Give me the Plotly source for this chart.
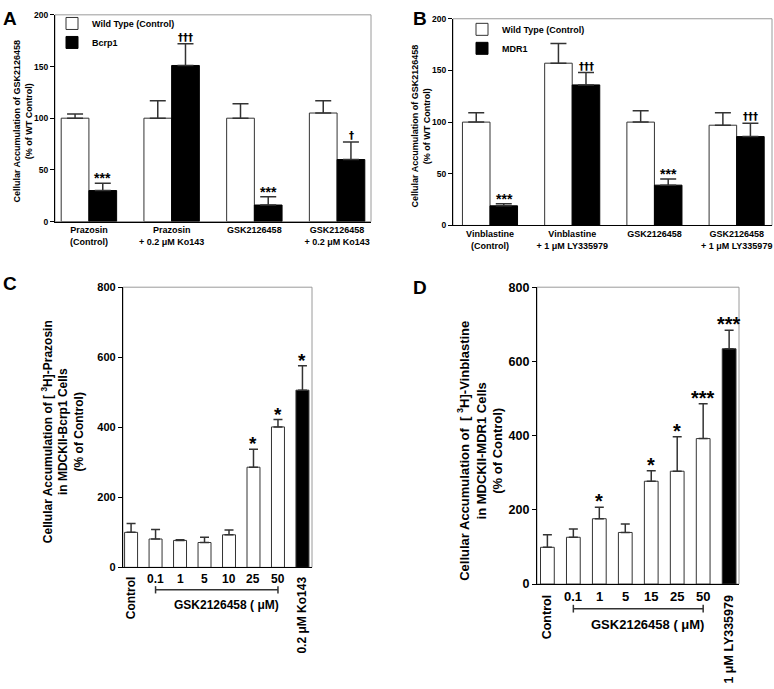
import plotly.graph_objects as go

# ---------------- data ----------------
catsA = ["Prazosin<br>(Control)", "Prazosin<br>+ 0.2 μM Ko143", "GSK2126458", "GSK2126458<br>+ 0.2 μM Ko143"]
wtA = [100, 100, 100, 105]
wtA_err = [4, 17, 14, 12]
bcrpA = [30, 151, 16, 60]
bcrpA_err = [7, 21, 8, 17]
sigA = ["***", "†††", "***", "†"]

catsB = ["Vinblastine<br>(Control)", "Vinblastine<br>+ 1 μM LY335979", "GSK2126458", "GSK2126458<br>+ 1 μM LY335979"]
wtB = [100, 157, 100, 97]
wtB_err = [9, 19, 11, 12]
mdrB = [19, 136, 39, 86]
mdrB_err = [2, 12, 6, 13]
sigB = ["***", "†††", "***", "†††"]

catsC = ["Control", "0.1", "1", "5", "10", "25", "50", "0.2 μM Ko143"]
valsC = [100, 81, 77, 71, 93, 286, 401, 506]
errC = [25, 27, 2, 15, 14, 51, 21, 70]
sigC = ["", "", "", "", "", "*", "*", "*"]

catsD = ["Control", "0.1", "1", "5", "15", "25", "50", "1 μM LY335979"]
valsD = [99, 126, 176, 139, 277, 304, 392, 634]
errD = [34, 22, 31, 23, 28, 93, 94, 50]
sigD = ["", "", "*", "", "*", "*", "***", "***"]

yticksAB = [0, 50, 100, 150, 200]
yticksCD = [0, 200, 400, 600, 800]

FONT = "Liberation Sans, Arial, sans-serif"
W, H = 774, 689

def px_x(p):
    return p / W

def px_y(p):
    return 1 - p / H

ERRC = "#333333"
LINEC = "#333333"

fig = go.Figure()

def err(arr):
    return dict(type="data", array=arr, arrayminus=[0] * len(arr), symmetric=False,
                color=ERRC, thickness=1.5, width=8)

# ---- Panel A ----
fig.add_trace(go.Bar(
    x=catsA, y=wtA, name="Wild Type (Control)", xaxis="x", yaxis="y", legend="legend",
    marker=dict(color="white", line=dict(color=LINEC, width=1)), error_y=err(wtA_err)))
fig.add_trace(go.Bar(
    x=catsA, y=bcrpA, name="Bcrp1", xaxis="x", yaxis="y", legend="legend",
    marker=dict(color="black", line=dict(color="black", width=1)), error_y=err(bcrpA_err)))

# ---- Panel B ----
fig.add_trace(go.Bar(
    x=catsB, y=wtB, name="Wild Type (Control)", xaxis="x2", yaxis="y2", legend="legend2",
    marker=dict(color="white", line=dict(color=LINEC, width=1)), error_y=err(wtB_err)))
fig.add_trace(go.Bar(
    x=catsB, y=mdrB, name="MDR1", xaxis="x2", yaxis="y2", legend="legend2",
    marker=dict(color="black", line=dict(color="black", width=1)), error_y=err(mdrB_err)))

# ---- Panel C ----
colC = ["black" if i == len(catsC) - 1 else "white" for i in range(len(catsC))]
eC = err(errC); eC["width"] = 4.5
fig.add_trace(go.Bar(
    x=catsC, y=valsC, xaxis="x3", yaxis="y3", showlegend=False, width=0.53,
    marker=dict(color=colC, line=dict(color=LINEC, width=1)), error_y=eC))

# ---- Panel D ----
colD = ["black" if i == len(catsD) - 1 else "white" for i in range(len(catsD))]
eD = err(errD); eD["width"] = 4.5
fig.add_trace(go.Bar(
    x=catsD, y=valsD, xaxis="x4", yaxis="y4", showlegend=False, width=0.53,
    marker=dict(color=colD, line=dict(color=LINEC, width=1)), error_y=eD))

def yax(domain, anchor, rng, ticks, size):
    return dict(domain=domain, anchor=anchor, range=rng, tickvals=ticks,
                showline=True, linecolor="black", linewidth=1.2, mirror=False,
                ticks="outside", ticklen=4, tickwidth=1, tickcolor="black",
                showgrid=False, zeroline=False,
                tickfont=dict(family=FONT, size=size, color="black", weight="bold"))

def xax(domain, anchor, rng, size, show=True):
    return dict(domain=domain, anchor=anchor, range=rng, type="category",
                showline=True, linecolor="black", linewidth=1.2, ticks="",
                showgrid=False, zeroline=False, showticklabels=show,
                tickfont=dict(family=FONT, size=size, color="black", weight="bold"))

domA_x = [px_x(55), px_x(371)];  domA_y = [px_y(219), px_y(8)]
domB_x = [px_x(453), px_x(772)]; domB_y = [px_y(223), px_y(12)]
domC_x = [px_x(123), px_x(312)]; domC_y = [px_y(572), px_y(286)]
domD_x = [px_x(537), px_x(739)]; domD_y = [px_y(589), px_y(286)]

legfont = dict(family=FONT, size=9, color="black", weight="bold")
fig.update_layout(
    width=W, height=H, margin=dict(l=0, r=0, t=0, b=0),
    paper_bgcolor="white", plot_bgcolor="white",
    font=dict(family=FONT, color="black"),
    barmode="group", bargap=0.33, bargroupgap=0,
    xaxis=xax(domA_x, "y", [-0.41, 3.41], 9),
    yaxis=yax(domA_y, "x", [0, 200], yticksAB, 8.5),
    xaxis2=xax(domB_x, "y2", [-0.45, 3.43], 9),
    yaxis2=yax(domB_y, "x2", [0, 200], yticksAB, 8.5),
    xaxis3=xax(domC_x, "y3", [-0.33, 7.39], 12, show=False),
    yaxis3=yax(domC_y, "x3", [0, 800], yticksCD, 11),
    xaxis4=xax(domD_x, "y4", [-0.40, 7.38], 13, show=False),
    yaxis4=yax(domD_y, "x4", [0, 800], yticksCD, 12.5),
    legend=dict(x=px_x(52), y=px_y(2), xanchor="left", yanchor="top",
                bgcolor="rgba(0,0,0,0)", tracegroupgap=0, font=legfont),
    legend2=dict(x=px_x(462), y=px_y(8), xanchor="left", yanchor="top",
                 bgcolor="rgba(0,0,0,0)", tracegroupgap=0, font=legfont),
)

shapes = []
for xr, yr in [("x", "y"), ("x2", "y2"), ("x3", "y3"), ("x4", "y4")]:
    shapes.append(dict(type="rect", xref=xr + " domain", yref=yr + " domain",
                       x0=0, x1=1, y0=0, y1=1, line=dict(color="#9a9a9a", width=1),
                       layer="below"))

ann = []

def bold(size, family=FONT):
    return dict(family=family, size=size, color="black", weight="bold")

DAG = "DejaVu Sans, Liberation Sans, sans-serif"

# significance marks A/B (placed on top of the error bars of the second series)
for i in range(len(catsA)):
    s = sigA[i]
    star = "*" in s
    ann.append(dict(x=i, y=bcrpA[i] + bcrpA_err[i], xref="x", yref="y", text=s,
                    showarrow=False, xshift=14, xanchor="center", yanchor="bottom",
                    yshift=-5 if star else -1,
                    font=bold(14, FONT) if star else bold(10, DAG)))
for i in range(len(catsB)):
    s = sigB[i]
    star = "*" in s
    ann.append(dict(x=i, y=mdrB[i] + mdrB_err[i], xref="x2", yref="y2", text=s,
                    showarrow=False, xshift=14, xanchor="center", yanchor="bottom",
                    yshift=-5 if star else -1,
                    font=bold(14, FONT) if star else bold(10, DAG)))
for i in range(len(catsC)):
    if sigC[i]:
        ann.append(dict(x=i, y=valsC[i] + errC[i], xref="x3", yref="y3", text=sigC[i],
                        showarrow=False, xanchor="center", yanchor="bottom", yshift=-7,
                        font=bold(19)))
for i in range(len(catsD)):
    if sigD[i]:
        ann.append(dict(x=i, y=valsD[i] + errD[i], xref="x4", yref="y4", text=sigD[i],
                        showarrow=False, xanchor="center", yanchor="bottom", yshift=-7,
                        font=bold(20)))

# x labels for C and D (category positions via index on the category axis)
def xlabels(cats, xr, yr, size, rsize, ynum, ytop, ybr, ylab, xlab, label):
    n = len(cats)
    for i, c in enumerate(cats):
        if i == 0 or i == n - 1:
            ann.append(dict(x=i, y=ytop, xref=xr, yref=yr + " domain", text=c,
                            textangle=-90, showarrow=False, xanchor="center",
                            yanchor="top", font=bold(rsize)))
        else:
            ann.append(dict(x=i, y=ynum, xref=xr, yref=yr + " domain", text=c,
                            showarrow=False, xanchor="center", yanchor="middle",
                            font=bold(size)))
    shapes.append(dict(type="line", xref=xr, yref=yr + " domain",
                       x0=1, x1=n - 2, y0=ybr, y1=ybr,
                       line=dict(color="#333333", width=1.5)))
    for cc in (1, n - 2):
        shapes.append(dict(type="line", xref=xr, yref=yr + " domain",
                           x0=cc, x1=cc, y0=ybr - 0.013, y1=ybr + 0.013,
                           line=dict(color="#333333", width=1.5)))
    ann.append(dict(x=xlab, y=ylab, xref="paper", yref=yr + " domain", text=label,
                    showarrow=False, xanchor="center", yanchor="middle",
                    font=bold(size)))

xlabels(catsC, "x3", "y3", 12, 12, -0.040, -0.026, -0.080, -0.133, px_x(226),
        "GSK2126458 ( μM)")
xlabels(catsD, "x4", "y4", 13, 12.5, -0.043, -0.030, -0.083, -0.135, px_x(647),
        "GSK2126458 ( μM)")

# y-axis titles
def ytitle(x, y, size, text):
    ann.append(dict(x=px_x(x), y=px_y(y), xref="paper", yref="paper", textangle=-90,
                    showarrow=False, xanchor="center", yanchor="middle",
                    font=bold(size), text=text))

ytitle(23, 117, 9, "Cellular Accumulation of GSK2126458<br>(% of WT Control)")
ytitle(421, 122, 9, "Cellular Accumulation of GSK2126458<br>(% of WT Control)")
ytitle(62, 433, 12, "Cellular Accumulation of [ <sup>3</sup>H]-Prazosin<br>in MDCKII-Bcrp1 Cells<br>(% of Control)")
ytitle(480, 453, 13, "Cellular Accumulation of  [ <sup>3</sup>H]-Vinblastine<br>in MDCKII-MDR1 Cells<br>(% of Control)")

# panel letters
for lt, xx, yy in [("A", 1, -1), ("B", 411, -1), ("C", 1, 269), ("D", 411, 274)]:
    ann.append(dict(x=px_x(xx), y=px_y(yy), xref="paper", yref="paper", text=lt,
                    showarrow=False, xanchor="left", yanchor="top", font=bold(19)))

fig.update_layout(annotations=ann, shapes=shapes)
fig.write_html("out.html", config={"displayModeBar": False},
               post_script="document.body.style.margin='0';")
